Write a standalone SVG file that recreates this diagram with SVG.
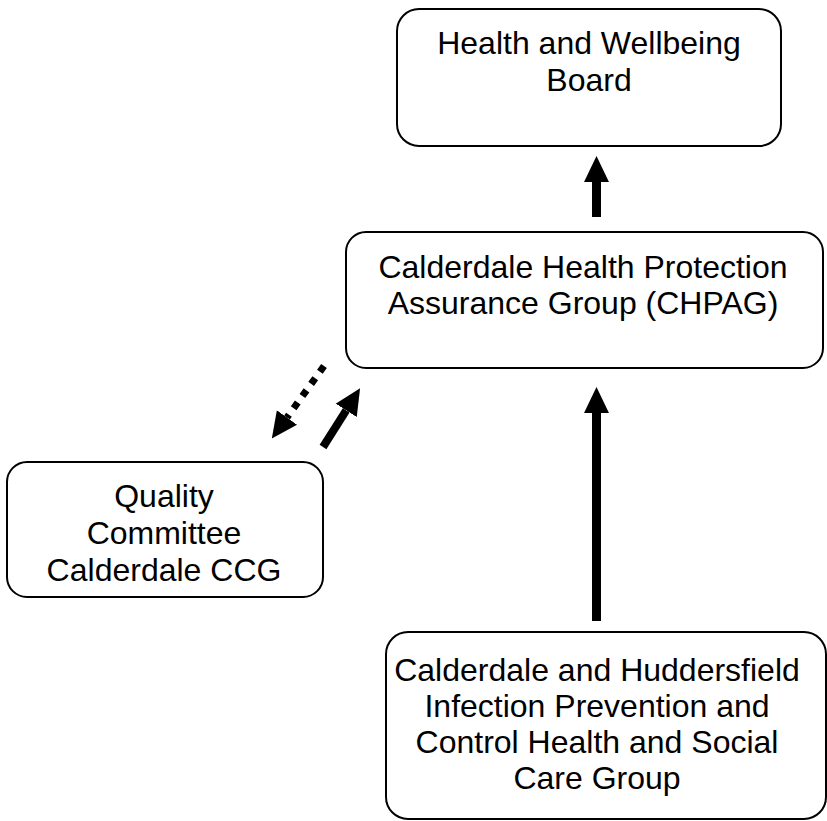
<svg xmlns="http://www.w3.org/2000/svg" width="827" height="821" viewBox="0 0 827 821">
<defs>
<style>
.box{fill:#fff;stroke:#000;stroke-width:2}
.t{font-family:"Liberation Sans",Arial,sans-serif;font-size:32px;fill:#000;text-anchor:middle}
.c{stroke:#000;fill:none}
</style>
<marker id="ah" markerUnits="userSpaceOnUse" markerWidth="26" markerHeight="26" refX="0" refY="12" orient="auto" viewBox="0 0 25 24">
<path d="M0,0 L25,12 L0,24 z" fill="#000"/>
</marker>
</defs>
<rect width="827" height="821" fill="#fff"/>
<g id="hwb">
<rect class="box" x="397" y="9" width="384" height="137" rx="22"/>
<text class="t" x="589" y="54">Health and Wellbeing</text>
<text class="t" x="589" y="91">Board</text>
</g>
<g id="chpag">
<rect class="box" x="346" y="232" width="477" height="136" rx="20"/>
<text class="t" x="583" y="278">Calderdale Health Protection</text>
<text class="t" x="583" y="314">Assurance Group (CHPAG)</text>
</g>
<g id="quality">
<rect class="box" x="7" y="462" width="316" height="135" rx="20"/>
<text class="t" x="164" y="507">Quality</text>
<text class="t" x="164" y="544">Committee</text>
<text class="t" x="164" y="581">Calderdale CCG</text>
</g>
<g id="ipc">
<rect class="box" x="386" y="632" width="440" height="187" rx="22"/>
<text class="t" x="597" y="681">Calderdale and Huddersfield</text>
<text class="t" x="597" y="717">Infection Prevention and</text>
<text class="t" x="597" y="753">Control Health and Social</text>
<text class="t" x="597" y="789">Care Group</text>
</g>
<g id="connectors">
<line class="c" x1="596.5" y1="217" x2="596.5" y2="182" stroke-width="9" marker-end="url(#ah)"/>
<line class="c" x1="596.5" y1="621" x2="596.5" y2="413" stroke-width="9" marker-end="url(#ah)"/>
<line class="c" x1="323" y1="447" x2="346.2" y2="410.3" stroke-width="8" marker-end="url(#ah)"/>
<line class="c" x1="324" y1="366" x2="287" y2="417.5" stroke-width="7" stroke-dasharray="7 8" marker-end="url(#ah)"/>
</g>
</svg>
